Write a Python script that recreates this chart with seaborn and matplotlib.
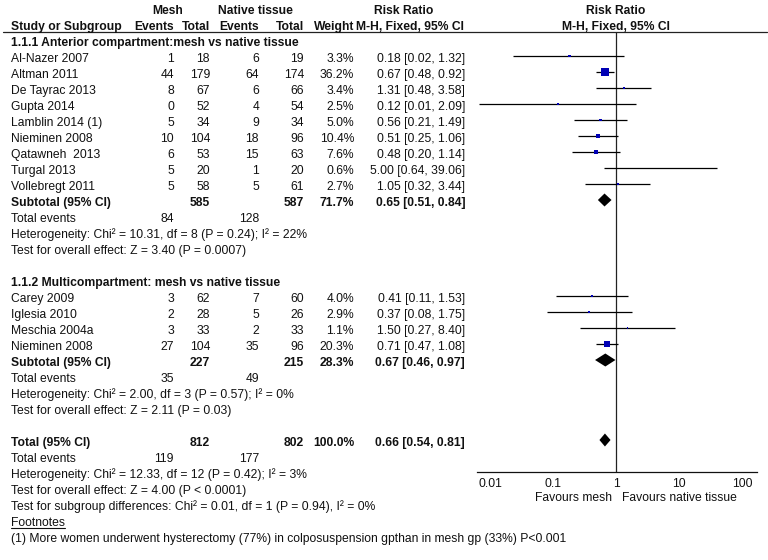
import numpy as np
import pandas as pd
import matplotlib
matplotlib.use("Agg")
import matplotlib.pyplot as plt
import seaborn as sns

# ---------------- data ----------------
sub1_names = ["Al-Nazer 2007", "Altman 2011", "De Tayrac 2013", "Gupta 2014", "Lamblin 2014 (1)",
              "Nieminen 2008", "Qatawneh  2013", "Turgal 2013", "Vollebregt 2011"]
sub1_mesh_ev = [1, 44, 8, 0, 5, 10, 6, 5, 5]
sub1_mesh_n = [18, 179, 67, 52, 34, 104, 53, 20, 58]
sub1_nat_ev = [6, 64, 6, 4, 9, 18, 15, 1, 5]
sub1_nat_n = [19, 174, 66, 54, 34, 96, 63, 20, 61]
sub1_weight = [3.3, 36.2, 3.4, 2.5, 5.0, 10.4, 7.6, 0.6, 2.7]
sub1_rr = [0.18, 0.67, 1.31, 0.12, 0.56, 0.51, 0.48, 5.00, 1.05]
sub1_lo = [0.023, 0.48, 0.48, 0.0066, 0.21, 0.25, 0.20, 0.64, 0.32]
sub1_hi = [1.32, 0.92, 3.58, 2.09, 1.49, 1.06, 1.14, 39.06, 3.44]

sub2_names = ["Carey 2009", "Iglesia 2010", "Meschia 2004a", "Nieminen 2008"]
sub2_mesh_ev = [3, 2, 3, 27]
sub2_mesh_n = [62, 28, 33, 104]
sub2_nat_ev = [7, 5, 2, 35]
sub2_nat_n = [60, 26, 33, 96]
sub2_weight = [4.0, 2.9, 1.1, 20.3]
sub2_rr = [0.41, 0.37, 1.50, 0.71]
sub2_lo = [0.11, 0.08, 0.27, 0.47]
sub2_hi = [1.53, 1.75, 8.40, 1.08]

# subtotal / total: label, mesh N, native N, weight, RR, lo, hi
pooled_labels = ["Subtotal (95% CI)", "Subtotal (95% CI)", "Total (95% CI)"]
pooled_mesh_n = [585, 227, 812]
pooled_nat_n = [587, 215, 802]
pooled_weight = [71.7, 28.3, 100.0]
pooled_rr = [0.65, 0.67, 0.66]
pooled_lo = [0.51, 0.46, 0.54]
pooled_hi = [0.84, 0.97, 0.81]

events_mesh = [84, 35, 119]
events_nat = [128, 49, 177]
heterogeneity = ["Heterogeneity: Chi\u00b2 = 10.31, df = 8 (P = 0.24); I\u00b2 = 22%",
                 "Heterogeneity: Chi\u00b2 = 2.00, df = 3 (P = 0.57); I\u00b2 = 0%",
                 "Heterogeneity: Chi\u00b2 = 12.33, df = 12 (P = 0.42); I\u00b2 = 3%"]
overall = ["Test for overall effect: Z = 3.40 (P = 0.0007)",
           "Test for overall effect: Z = 2.11 (P = 0.03)",
           "Test for overall effect: Z = 4.00 (P < 0.0001)"]
subgroup_test = "Test for subgroup differences: Chi\u00b2 = 0.01, df = 1 (P = 0.94), I\u00b2 = 0%"
section_titles = ["1.1.1 Anterior compartment:mesh vs native tissue",
                  "1.1.2 Multicompartment: mesh vs native tissue"]
footnote = "(1) More women underwent hysterectomy (77%) in colposuspension gpthan in mesh gp (33%) P<0.001"
tick_values = [0.01, 0.1, 1, 10, 100]
tick_labels = ["0.01", "0.1", "1", "10", "100"]
favours = ["Favours mesh", "Favours native tissue"]

# ---------------- layout ----------------
W, H, DPI = 768, 560, 100
sns.set_style("white")
plt.rcParams["font.family"] = ["Liberation Sans", "DejaVu Sans"]
FS = 8.7
TXT = "#111111"

def rowy(k):
    return 8 + 16 * k

fig = plt.figure(figsize=(W / DPI, H / DPI), dpi=DPI)
tab = fig.add_axes([0, 0, 1, 1])
tab.set_xlim(0, W)
tab.set_ylim(H, 0)
tab.axis("off")

xl = 11
col_me, col_mt, col_ne, col_nt, col_w, col_rr = 174, 210, 259, 304, 354, 465
BOFF = 6  # baseline offset

def put(x, k, s, ha="left", bold=False):
    tab.text(x, rowy(k) + BOFF, s, ha=ha, va="baseline", fontsize=FS, color=TXT,
             fontweight="bold" if bold else "normal")

# headers
put(168, 0, "Mesh", ha="center", bold=True)
put(255, 0, "Native tissue", ha="center", bold=True)
put(404, 0, "Risk Ratio", ha="center", bold=True)
put(616, 0, "Risk Ratio", ha="center", bold=True)
put(xl, 1, "Study or Subgroup", bold=True)
put(col_me, 1, "Events", ha="right", bold=True)
put(col_mt, 1, "Total", ha="right", bold=True)
put(col_ne, 1, "Events", ha="right", bold=True)
put(col_nt, 1, "Total", ha="right", bold=True)
put(col_w, 1, "Weight", ha="right", bold=True)
put(410, 1, "M-H, Fixed, 95% CI", ha="center", bold=True)
put(616, 1, "M-H, Fixed, 95% CI", ha="center", bold=True)
tab.plot([3, 767], [32, 32], color="#222222", lw=0.9)

def fmt_ci(r, l, h):
    return f"{r:.2f} [{l:.2f}, {h:.2f}]"

groups = [
    (sub1_names, sub1_mesh_ev, sub1_mesh_n, sub1_nat_ev, sub1_nat_n, sub1_weight, sub1_rr, sub1_lo, sub1_hi),
    (sub2_names, sub2_mesh_ev, sub2_mesh_n, sub2_nat_ev, sub2_nat_n, sub2_weight, sub2_rr, sub2_lo, sub2_hi),
]

study_rows = []
pooled_rows = []
k = 2
for g, (names, me, mn, ne, nn, w, rr, lo, hi) in enumerate(groups):
    put(xl, k, section_titles[g], bold=True)
    k += 1
    for i in range(len(names)):
        put(xl, k, names[i])
        put(col_me, k, str(me[i]), ha="right")
        put(col_mt, k, str(mn[i]), ha="right")
        put(col_ne, k, str(ne[i]), ha="right")
        put(col_nt, k, str(nn[i]), ha="right")
        put(col_w, k, f"{w[i]:.1f}%", ha="right")
        put(col_rr, k, fmt_ci(rr[i], lo[i], hi[i]), ha="right")
        study_rows.append(dict(y=rowy(k), rr=rr[i], lo=lo[i], hi=hi[i], w=w[i]))
        k += 1
    pooled_rows.append(rowy(k))
    put(xl, k, pooled_labels[g], bold=True)
    put(col_mt, k, str(pooled_mesh_n[g]), ha="right", bold=True)
    put(col_nt, k, str(pooled_nat_n[g]), ha="right", bold=True)
    put(col_w, k, f"{pooled_weight[g]:.1f}%", ha="right", bold=True)
    put(col_rr, k, fmt_ci(pooled_rr[g], pooled_lo[g], pooled_hi[g]), ha="right", bold=True)
    k += 1
    put(xl, k, "Total events")
    put(col_me, k, str(events_mesh[g]), ha="right")
    put(col_ne, k, str(events_nat[g]), ha="right")
    k += 1
    put(xl, k, heterogeneity[g]); k += 1
    put(xl, k, overall[g]); k += 2

# overall total
pooled_rows.append(rowy(k))
put(xl, k, pooled_labels[2], bold=True)
put(col_mt, k, str(pooled_mesh_n[2]), ha="right", bold=True)
put(col_nt, k, str(pooled_nat_n[2]), ha="right", bold=True)
put(col_w, k, f"{pooled_weight[2]:.1f}%", ha="right", bold=True)
put(col_rr, k, fmt_ci(pooled_rr[2], pooled_lo[2], pooled_hi[2]), ha="right", bold=True)
k += 1
put(xl, k, "Total events")
put(col_me, k, str(events_mesh[2]), ha="right")
put(col_ne, k, str(events_nat[2]), ha="right")
k += 1
put(xl, k, heterogeneity[2]); k += 1
put(xl, k, overall[2]); k += 1
put(xl, k, subgroup_test); k += 1
put(xl, k, "Footnotes")
tab.plot([xl, 64.5], [rowy(k) + BOFF + 2, rowy(k) + BOFF + 2], color=TXT, lw=0.8)
k += 1
put(xl, k, footnote)

# ---------------- forest axes ----------------
ax_left, ax_right, ax_top, ax_bot = 476.7, 757.3, 32, 472
fax = fig.add_axes([ax_left / W, 1 - ax_bot / H, (ax_right - ax_left) / W, (ax_bot - ax_top) / H])
fax.set_xscale("log")
px_dec = 63.0
x1 = 616.3
fax.set_xlim(10 ** ((ax_left - x1) / px_dec), 10 ** ((ax_right - x1) / px_dec))
fax.set_ylim(ax_bot, ax_top)
fax.patch.set_alpha(0)
for s in ["top", "left", "right"]:
    fax.spines[s].set_visible(False)
fax.spines["bottom"].set_color("#111111")
fax.spines["bottom"].set_linewidth(0.9)
fax.set_yticks([])
fax.set_xticks(tick_values)
fax.set_xticklabels(tick_labels)
fax.xaxis.set_minor_locator(matplotlib.ticker.NullLocator())
fax.tick_params(axis="x", direction="inout", length=6, width=0.8, color="#111111",
                labelsize=FS, labelcolor=TXT, pad=1)
fax.set_xlabel("")
fax.set_ylabel("")

fax.axvline(1, color="#222222", lw=0.9, zorder=1)

sdf = pd.DataFrame(study_rows)
fax.hlines(sdf["y"], sdf["lo"], sdf["hi"], color="black", lw=0.9, zorder=2)
wmin, wmax = sdf["w"].min(), sdf["w"].max()
sns.scatterplot(data=sdf, x="rr", y="y", size="w", sizes=(0.85 * wmin, 0.85 * wmax),
                size_norm=(wmin, wmax), marker="s", color="#0000b4", linewidth=0,
                legend=False, ax=fax, zorder=3)
fax.set_xlabel("")
fax.set_ylabel("")
fax.set_ylim(ax_bot, ax_top)

half_h = 6.5
for y, r, l, h in zip(pooled_rows, pooled_rr, pooled_lo, pooled_hi):
    fax.fill([l, r, h, r], [y, y - half_h, y, y + half_h], color="black", lw=0, zorder=4)

put(612, 30, favours[0], ha="right")
put(622, 30, favours[1], ha="left")
tab.texts[-1].set_y(497 + 4.3)
tab.texts[-2].set_y(497 + 4.3)

fig.savefig("out.png", dpi=DPI)
